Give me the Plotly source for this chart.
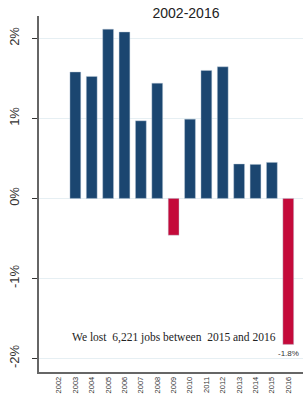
import plotly.graph_objects as go

years = [str(y) for y in range(2002, 2017)]
growth_pct = [None, 1.58, 1.525, 2.115, 2.08, 0.97, 1.44, -0.46, 0.99, 1.60, 1.645, 0.43, 0.425, 0.45, -1.825]
last_label = "-1.8%"
y_ticks = [-2, -1, 0, 1, 2]
y_tick_text = ["-2%", "-1%", "0%", "1%", "2%"]
title_text = "2002-2016"
note_text = "We lost\u00a0 6,221 jobs between\u00a0 2015 and 2016"
note_year = "2009"
note_value = -1.74

BLUE = "#1b4670"
RED = "#c40a3a"
colors = [RED if (v is not None and v < 0) else BLUE for v in growth_pct]

fig = go.Figure()
fig.add_trace(go.Bar(
    x=years, y=growth_pct,
    marker=dict(color=colors, line=dict(color="rgba(190,205,220,0.7)", width=0.6)),
    width=0.66,
    hoverinfo="skip",
))

fig.add_annotation(
    x=years.index(note_year), y=note_value, xref="x", yref="y",
    text=note_text, showarrow=False,
    font=dict(family="Liberation Serif, Times New Roman, serif", size=11.5, color="#222222"),
    xanchor="center", yanchor="middle",
)
fig.add_annotation(
    x=len(years) - 1, y=growth_pct[-1], xref="x", yref="y",
    text=last_label, showarrow=False,
    font=dict(family="Liberation Sans, Arial, sans-serif", size=8, color="#333333"),
    xanchor="center", yanchor="top", yshift=-3,
)

fig.update_layout(
    width=303, height=394,
    margin=dict(l=39, r=0, t=16, b=22),
    plot_bgcolor="white", paper_bgcolor="white",
    showlegend=False,
    title=dict(text=title_text, x=186/303, xref="container", xanchor="center",
               y=1-13/394, yref="container", yanchor="middle",
               font=dict(family="Liberation Sans, Arial, sans-serif", size=14, color="#222222")),
)

fig.update_xaxes(
    type="category",
    range=[-1.22, 14.9],
    showline=True, linecolor="#666666", linewidth=1.5,
    showgrid=False, ticks="",
    tickangle=-90,
    tickfont=dict(family="Liberation Sans, Arial, sans-serif", size=7.5, color="#333333"),
    automargin=False,
    ticklabelstandoff=0,
)

fig.update_yaxes(
    range=[-2.17, 2.28],
    tickvals=y_ticks, ticktext=y_tick_text,
    tickangle=-90,
    showline=True, linecolor="#666666", linewidth=1.5,
    ticks="outside", ticklen=5, tickcolor="#333333",
    showgrid=True, gridcolor="#e6eff3", gridwidth=1,
    zeroline=False,
    tickfont=dict(family="Liberation Sans, Arial, sans-serif", size=13, color="#333333"),
    automargin=False,
    ticklabelstandoff=8,
)

fig.write_html("out.html", config={"displayModeBar": False},
               post_script="document.body.style.margin='0';")
